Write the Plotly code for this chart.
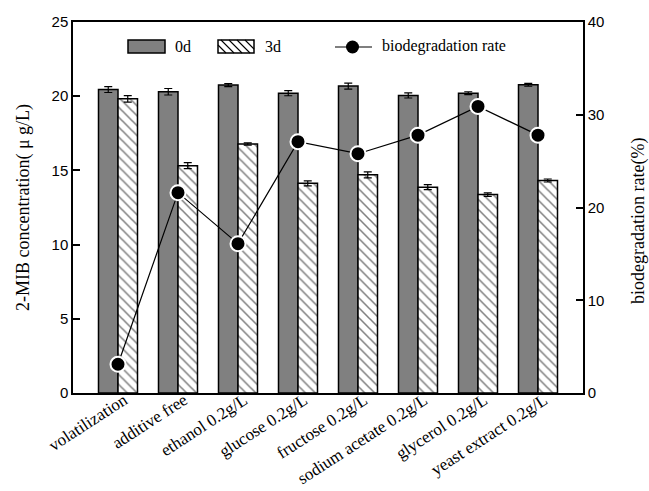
import plotly.graph_objects as go

categories = ["volatilization", "additive free", "ethanol 0.2g/L", "glucose 0.2g/L",
              "fructose 0.2g/L", "sodium acetate 0.2g/L", "glycerol 0.2g/L",
              "yeast extract 0.2g/L"]
conc_0d = [20.45, 20.3, 20.75, 20.2, 20.68, 20.05, 20.2, 20.77]
err_0d = [0.2, 0.22, 0.1, 0.17, 0.2, 0.17, 0.1, 0.1]
conc_3d = [19.82, 15.32, 16.78, 14.13, 14.7, 13.87, 13.37, 14.32]
err_3d = [0.22, 0.2, 0.08, 0.17, 0.2, 0.17, 0.12, 0.1]
rate = [3.1, 21.6, 16.1, 27.1, 25.8, 27.8, 30.9, 27.8]

W, H = 649, 491
L, R, T, B = 73, 583, 22, 393

SERIF = "Liberation Serif, Times New Roman, serif"
SANS = "Liberation Sans, Arial, sans-serif"

fig = go.Figure()
fig.add_trace(go.Bar(
    x=categories, y=conc_0d, name="0d",
    marker=dict(color="#808080", line=dict(color="black", width=1.5)),
    error_y=dict(type="data", array=err_0d, color="black", thickness=1.2, width=4),
    showlegend=False,
))
fig.add_trace(go.Bar(
    x=categories, y=conc_3d, name="3d",
    marker=dict(color="white", line=dict(color="black", width=1.5),
                pattern=dict(shape="\\", fgcolor="black", bgcolor="white",
                             size=7, solidity=0.22)),
    error_y=dict(type="data", array=err_3d, color="black", thickness=1.2, width=4),
    showlegend=False,
))
fig.add_trace(go.Scatter(
    x=categories, y=rate, name="biodegradation rate", yaxis="y2",
    mode="lines+markers",
    line=dict(color="black", width=1.2),
    marker=dict(color="black", size=15, line=dict(color="white", width=2)),
    showlegend=False,
))


def px(x):
    return (x - L) / (R - L)


def py(y):
    return (B - y) / (B - T)


shapes = []
annotations = []
ly0, ly1 = 40, 53
# 0d legend
shapes.append(dict(type="rect", xref="paper", yref="paper",
                   x0=px(128), x1=px(165), y0=py(ly1), y1=py(ly0),
                   fillcolor="#808080", line=dict(color="black", width=1.5)))
annotations.append(dict(text="0d", x=px(173), y=py(46.5), xref="paper", yref="paper",
                        xanchor="left", yanchor="middle", showarrow=False,
                        font=dict(family=SERIF, size=16, color="black")))
# 3d legend
x0, x1 = 218, 254
hgt = ly1 - ly0
shapes.append(dict(type="rect", xref="paper", yref="paper",
                   x0=px(x0), x1=px(x1), y0=py(ly1), y1=py(ly0),
                   fillcolor="white", line=dict(color="black", width=1.5)))
k = -hgt
while k < (x1 - x0):
    tmin = max(0.0, -k / hgt)
    tmax = min(1.0, (x1 - x0 - k) / hgt)
    if tmin < tmax:
        shapes.append(dict(type="line", xref="paper", yref="paper",
                           x0=px(x0 + k + hgt * tmin), y0=py(ly0 + hgt * tmin),
                           x1=px(x0 + k + hgt * tmax), y1=py(ly0 + hgt * tmax),
                           line=dict(color="black", width=1.1)))
    k += 8
annotations.append(dict(text="3d", x=px(263), y=py(46.5), xref="paper", yref="paper",
                        xanchor="left", yanchor="middle", showarrow=False,
                        font=dict(family=SERIF, size=16, color="black")))
# rate legend
shapes.append(dict(type="line", xref="paper", yref="paper",
                   x0=px(335), x1=px(372), y0=py(47), y1=py(47),
                   line=dict(color="black", width=1.2)))
shapes.append(dict(type="circle", xref="paper", yref="paper",
                   x0=px(346), x1=px(359), y0=py(53.5), y1=py(40.5),
                   fillcolor="black", line=dict(color="black", width=0)))
annotations.append(dict(text="biodegradation rate", x=px(380), y=py(46.5),
                        xref="paper", yref="paper",
                        xanchor="left", yanchor="middle", showarrow=False,
                        font=dict(family=SERIF, size=16, color="black")))
# right axis title
annotations.append(dict(text="biodegradation rate(%)", x=px(638), y=py(221),
                        xref="paper", yref="paper", textangle=-90,
                        xanchor="center", yanchor="middle", showarrow=False,
                        font=dict(family=SERIF, size=18, color="black")))

fig.update_layout(
    width=W, height=H,
    margin=dict(l=L, r=W - R, t=T, b=H - B),
    paper_bgcolor="white", plot_bgcolor="white",
    barmode="group", bargap=0.35, bargroupgap=0,
    shapes=shapes, annotations=annotations,
    xaxis=dict(
        range=[-0.75, 7.75], showline=True, linecolor="black", linewidth=1.5,
        mirror=True, ticks="", showgrid=False, tickangle=-33, automargin=False,
        ticklabelstandoff=-11, ticklabelshift=6,
        tickfont=dict(family=SERIF, size=17, color="black"),
    ),
    yaxis=dict(
        range=[0, 25], dtick=5, showline=True, linecolor="black", linewidth=1.5,
        ticks="inside", ticklen=7, tickwidth=1.5, tickcolor="black",
        showgrid=False, zeroline=False, automargin=False,
        tickfont=dict(family=SANS, size=15, color="black"),
        title=dict(text="2-MIB concentration( μ g/L)", standoff=17,
                   font=dict(family=SERIF, size=18, color="black")),
    ),
    yaxis2=dict(
        range=[0, 40], dtick=10, overlaying="y", side="right",
        showline=True, linecolor="black", linewidth=1.5,
        ticks="inside", ticklen=7, tickwidth=1.5, tickcolor="black",
        showgrid=False, zeroline=False, automargin=False,
        tickfont=dict(family=SANS, size=15, color="black"),
    ),
)

fig.write_html("out.html")
